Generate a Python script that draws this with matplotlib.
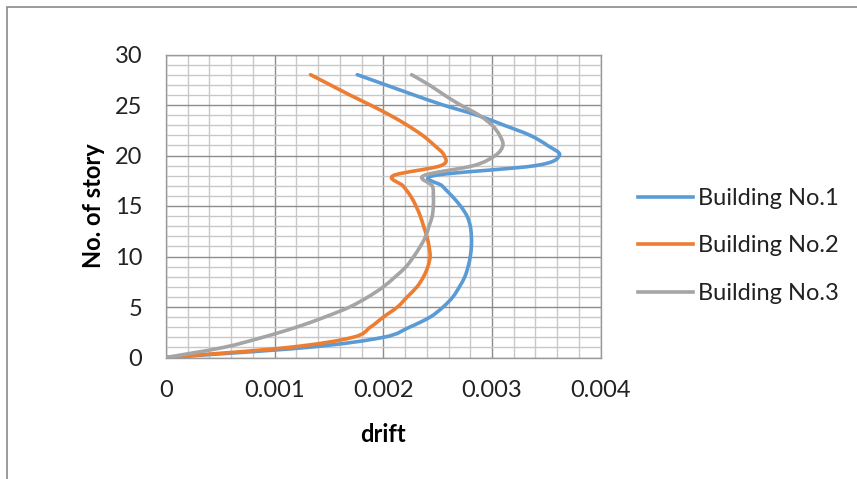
import matplotlib
matplotlib.use('Agg')
import matplotlib.pyplot as plt
import numpy as np
from matplotlib.path import Path
from matplotlib.patches import PathPatch, Rectangle
from matplotlib.lines import Line2D
from matplotlib.ticker import MultipleLocator

plt.rcParams['font.family'] = ['Lato', 'DejaVu Sans']

story = list(range(29))
drift1 = [0, 0.00130, 0.00200, 0.00224, 0.00243, 0.00255, 0.00264, 0.00270, 0.00275, 0.00278,
          0.00280, 0.00281, 0.00281, 0.00280, 0.00277, 0.00271, 0.00263, 0.00254, 0.00246, 0.00340,
          0.00362, 0.00351, 0.00335, 0.00311, 0.00286, 0.00255, 0.00228, 0.00202, 0.00176]
drift2 = [0, 0.00113, 0.00172, 0.00188, 0.00200, 0.00213, 0.00222, 0.00231, 0.00237, 0.00241,
          0.00243, 0.00242, 0.00240, 0.00237, 0.00234, 0.00230, 0.00225, 0.00218, 0.00209, 0.00253,
          0.00256, 0.00247, 0.00236, 0.00222, 0.00206, 0.00188, 0.00169, 0.00151, 0.00133]
drift3 = [0, 0.00053, 0.00089, 0.00120, 0.00146, 0.00169, 0.00186, 0.00200, 0.00211, 0.00221,
          0.00228, 0.00234, 0.00239, 0.00242, 0.00245, 0.00246, 0.00246, 0.00245, 0.00237, 0.00283,
          0.00303, 0.00310, 0.00307, 0.00300, 0.00288, 0.00271, 0.00256, 0.00242, 0.00226]
names = ['Building No.1', 'Building No.2', 'Building No.3']
colors = ['#5B9BD5', '#ED7D31', '#A5A5A5']


def smooth_path(xs, ys):
    # excel-like smoothed line: bezier segments through every point
    p = np.column_stack([xs, ys]).astype(float)
    n = len(p)
    verts = [p[0]]
    codes = [Path.MOVETO]
    for i in range(n - 1):
        p0 = p[i - 1] if i > 0 else p[i]
        p3 = p[i + 2] if i + 2 < n else p[i + 1]
        c1 = p[i] + (p[i + 1] - p0) / 6
        c2 = p[i + 1] - (p3 - p[i]) / 6
        verts += [c1, c2, p[i + 1]]
        codes += [Path.CURVE4] * 3
    return Path(verts, codes)


fig = plt.figure(figsize=(8.57, 4.79), dpi=100)
ax = fig.add_axes([166 / 857, 1 - 357.5 / 479, 434.7 / 857, 303 / 479])

for d, c in zip([drift1, drift2, drift3], colors):
    ax.add_patch(PathPatch(smooth_path(d, story), fill=False, edgecolor=c,
                           lw=2.6, capstyle='round', joinstyle='round', zorder=3))

ax.set_xlim(0, 0.004)
ax.set_ylim(0, 30)
ax.xaxis.set_major_locator(MultipleLocator(0.001))
ax.xaxis.set_minor_locator(MultipleLocator(0.0002))
ax.yaxis.set_major_locator(MultipleLocator(5))
ax.yaxis.set_minor_locator(MultipleLocator(1))
ax.xaxis.set_major_formatter(plt.FuncFormatter(lambda v, p: '0' if v == 0 else '%g' % round(v, 4)))
ax.grid(which='major', color='#8c8c8c', lw=1.0, zorder=1)
ax.grid(which='minor', color='#c8c8c8', lw=1.0, zorder=0)
ax.set_axisbelow(True)
ax.tick_params(which='both', length=0, labelsize=17, colors='#222222')
ax.tick_params(axis='x', pad=16)
ax.tick_params(axis='y', pad=17)
for s in ax.spines.values():
    s.set_color('#9a9a9a')
    s.set_linewidth(1.0)

ax.set_xlabel('drift', fontsize=17, fontweight='bold', labelpad=16)
ax.set_ylabel('No. of story', fontsize=17, fontweight='bold', labelpad=7)

handles = [Line2D([], [], color=c, lw=2.6) for c in colors]
fig.legend(handles, names, loc='center left', bbox_to_anchor=(638 / 857, 1 - 246 / 479),
           frameon=False, fontsize=17, handlelength=2.33, handletextpad=0.22,
           labelspacing=1.12, borderpad=0, borderaxespad=0, labelcolor='#222222')

# outer frame of the figure box
fig.patches.append(Rectangle((7.5 / 857, -0.1), 1.2, 1.1 - 7 / 479, transform=fig.transFigure,
                             fill=False, edgecolor='#8a8a8a', lw=1.2))

fig.savefig('out.png', dpi=100)
